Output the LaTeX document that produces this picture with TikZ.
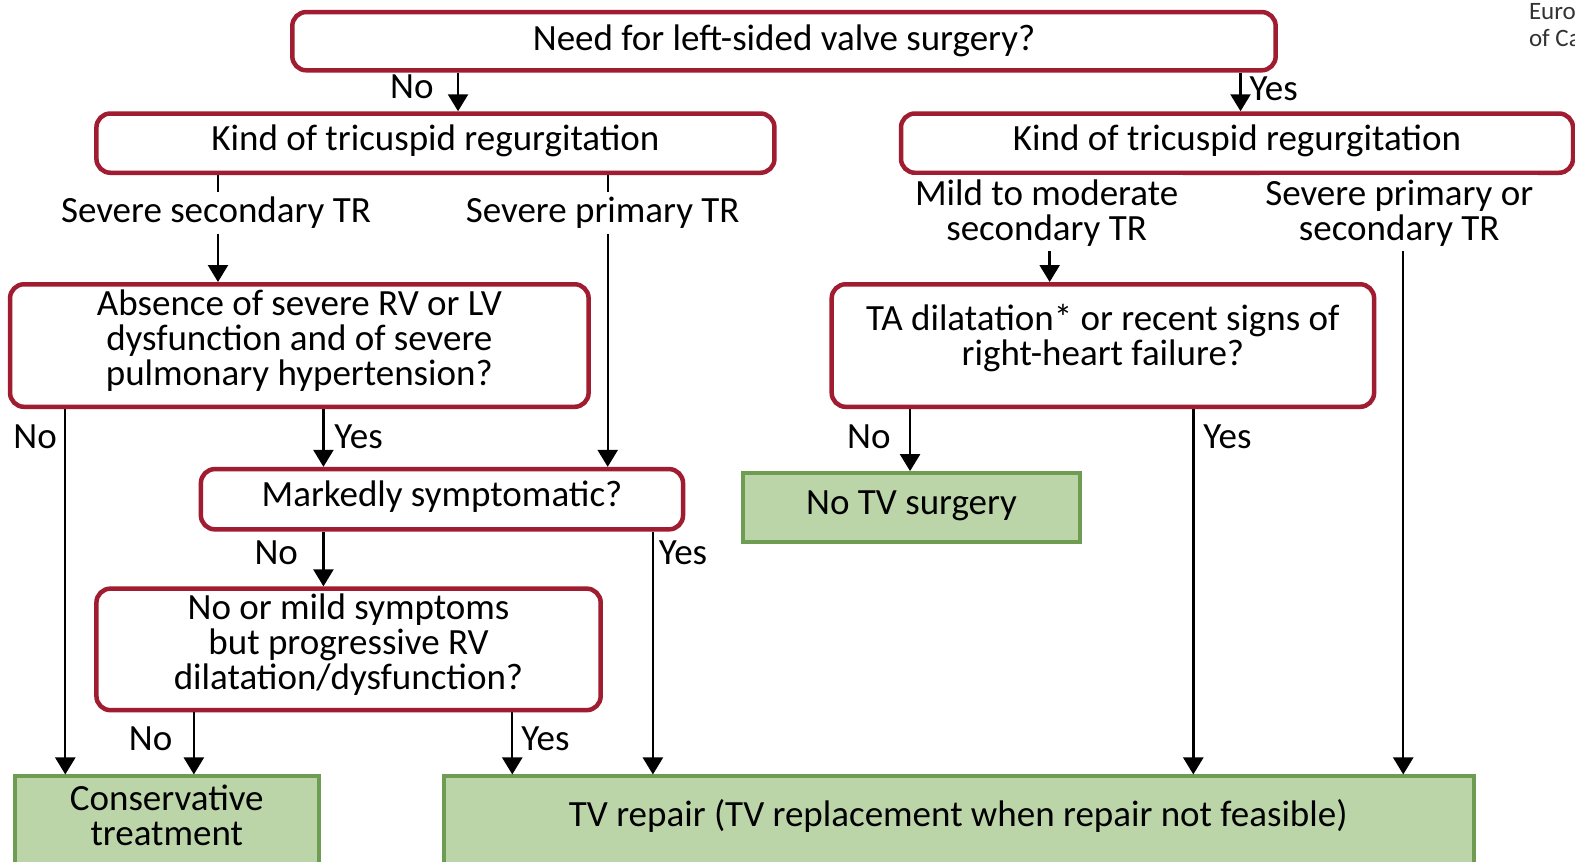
\documentclass[tikz,border=0pt]{standalone}
\usepackage{fontspec}
\setmainfont{Carlito}
\usetikzlibrary{arrows.meta,positioning,fit}
\definecolor{boxred}{HTML}{A01C30}
\definecolor{gfill}{HTML}{BBD5A8}
\definecolor{gdraw}{HTML}{6E9C52}
\definecolor{esc}{HTML}{333333}
\tikzset{
  redbox/.style={draw=boxred, line width=4.5pt, rounded corners=14pt, fill=white, inner sep=0pt},
  greenbox/.style={draw=gdraw, line width=4pt, fill=gfill, inner sep=0pt},
  txt/.style={align=center, inner sep=0pt, font=\fontsize{37}{35}\selectfont},
  arr/.style={line width=2.4pt, -{Triangle[width=20pt,length=17pt]}},
  lab/.style={font=\fontsize{37}{35}\selectfont, inner sep=1pt},
  cond/.style={font=\fontsize{37}{35}\selectfont, align=center, fill=white, inner sep=5pt},
}
\begin{document}
\begin{tikzpicture}[x=1.0045pt,y=-1.0045pt]
\useasboundingbox[fill=white] (0,0) rectangle (1568,858);
% partial logo text at top right (cut by the page edge, as in the reference)
\node[anchor=north west, font=\fontsize{25}{27}\selectfont, text=esc, align=left, inner sep=0pt] (esc) at (1522,2) {European Society\\of Cardiology};
% boxes
\node[redbox, fit={(291,12)(1270,70)}] (b1) {};
\node[redbox, fit={(96,113)(771,172)}] (b2L) {};
\node[redbox, fit={(897,113)(1566,172)}] (b2R) {};
\node[redbox, fit={(10,283)(586,405)}] (b3) {};
\node[redbox, fit={(200,467)(680,527)}] (b4) {};
\node[redbox, fit={(96,586)(598,707)}] (b5) {};
\node[redbox, fit={(828,283)(1368,405)}] (b6) {};
\node[greenbox, fit={(15,773)(318,866)}] (g1) {};
\node[greenbox, fit={(442,773)(1467,866)}] (g2) {};
\node[greenbox, fit={(740,471)(1075,540)}] (g3) {};
% box texts
\node[txt] (t1) at (b1) {Need for left-sided valve surgery?};
\node[txt, yshift=2pt] (t2L) at (b2L) {Kind of tricuspid regurgitation};
\node[txt, yshift=2pt] (t2R) at (b2R) {Kind of tricuspid regurgitation};
\node[txt, yshift=5pt] (t3) at (b3) {Absence of severe RV or LV\\dysfunction and of severe\\pulmonary hypertension?};
\node[txt, yshift=3pt] (t4) at (b4) {Markedly symptomatic?};
\node[txt, yshift=5pt] (t5) at (b5) {No or mild symptoms\\but progressive RV\\dilatation/dysfunction?};
\node[txt, yshift=7pt] (t6) at (b6) {TA dilatation* or recent signs of\\right-heart failure?};
\node[txt] (tg1) at (166,812) {Conservative\\treatment};
\node[txt] (tg2) at (954,812) {TV repair (TV replacement when repair not feasible)};
\node[txt, yshift=2pt] (tg3) at (g3) {No TV surgery};
% column coordinates
\coordinate (c456) at (456,0);
\coordinate (c1235) at (1235,0);
\coordinate (c217) at (217,0);
\coordinate (c605) at (605,0);
\coordinate (c65) at (65,0);
\coordinate (c322) at (322,0);
\coordinate (c650) at (650,0);
\coordinate (c193) at (193,0);
\coordinate (c510) at (510,0);
\coordinate (c1045) at (1045,0);
\coordinate (c1397) at (1397,0);
\coordinate (c906) at (906,0);
\coordinate (c1188) at (1188,0);
% connectors
\draw[arr] (b1.south -| c456) -- (b2L.north -| c456);
\draw[arr] (b1.south -| c1235) -- (b2R.north -| c1235);
\draw[arr] (b2L.south -| c217) -- (b3.north -| c217);
\draw[arr] (b2L.south -| c605) -- (b4.north -| c605);
\draw[arr] (b3.south -| c65) -- (g1.north -| c65);
\draw[arr] (b3.south -| c322) -- (b4.north -| c322);
\draw[arr] (b4.south -| c322) -- (b5.north -| c322);
\draw[arr] (b4.south -| c650) -- (g2.north -| c650);
\draw[arr] (b5.south -| c193) -- (g1.north -| c193);
\draw[arr] (b5.south -| c510) -- (g2.north -| c510);
\draw[arr] (b2R.south -| c1397) -- (g2.north -| c1397);
\draw[arr] (b6.south -| c906) -- (g3.north -| c906);
\draw[arr] (b6.south -| c1188) -- (g2.north -| c1188);
% condition labels
\node[cond] (s1) at (215,212) {Severe secondary TR};
\node[cond] (s2) at (600,212) {Severe primary TR};
\node[cond] (s3) at (1042,212) {Mild to moderate\\secondary TR};
\node[cond] (s4) at (1393,212) {Severe primary or\\secondary TR};
\draw[arr] (s3.south -| c1045) -- (b6.north -| c1045);
% yes/no labels
\node[lab] (n1) at (410,86) {No};
\node[lab] (y1) at (1268,88) {Yes};
\node[lab] (n2) at (35,435) {No};
\node[lab] (y2) at (357,435) {Yes};
\node[lab] (n3) at (275,550) {No};
\node[lab] (y3) at (680,550) {Yes};
\node[lab] (n4) at (150,735) {No};
\node[lab] (y4) at (543,735) {Yes};
\node[lab] (n5) at (865,435) {No};
\node[lab] (y5) at (1222,435) {Yes};
\end{tikzpicture}
\end{document}
